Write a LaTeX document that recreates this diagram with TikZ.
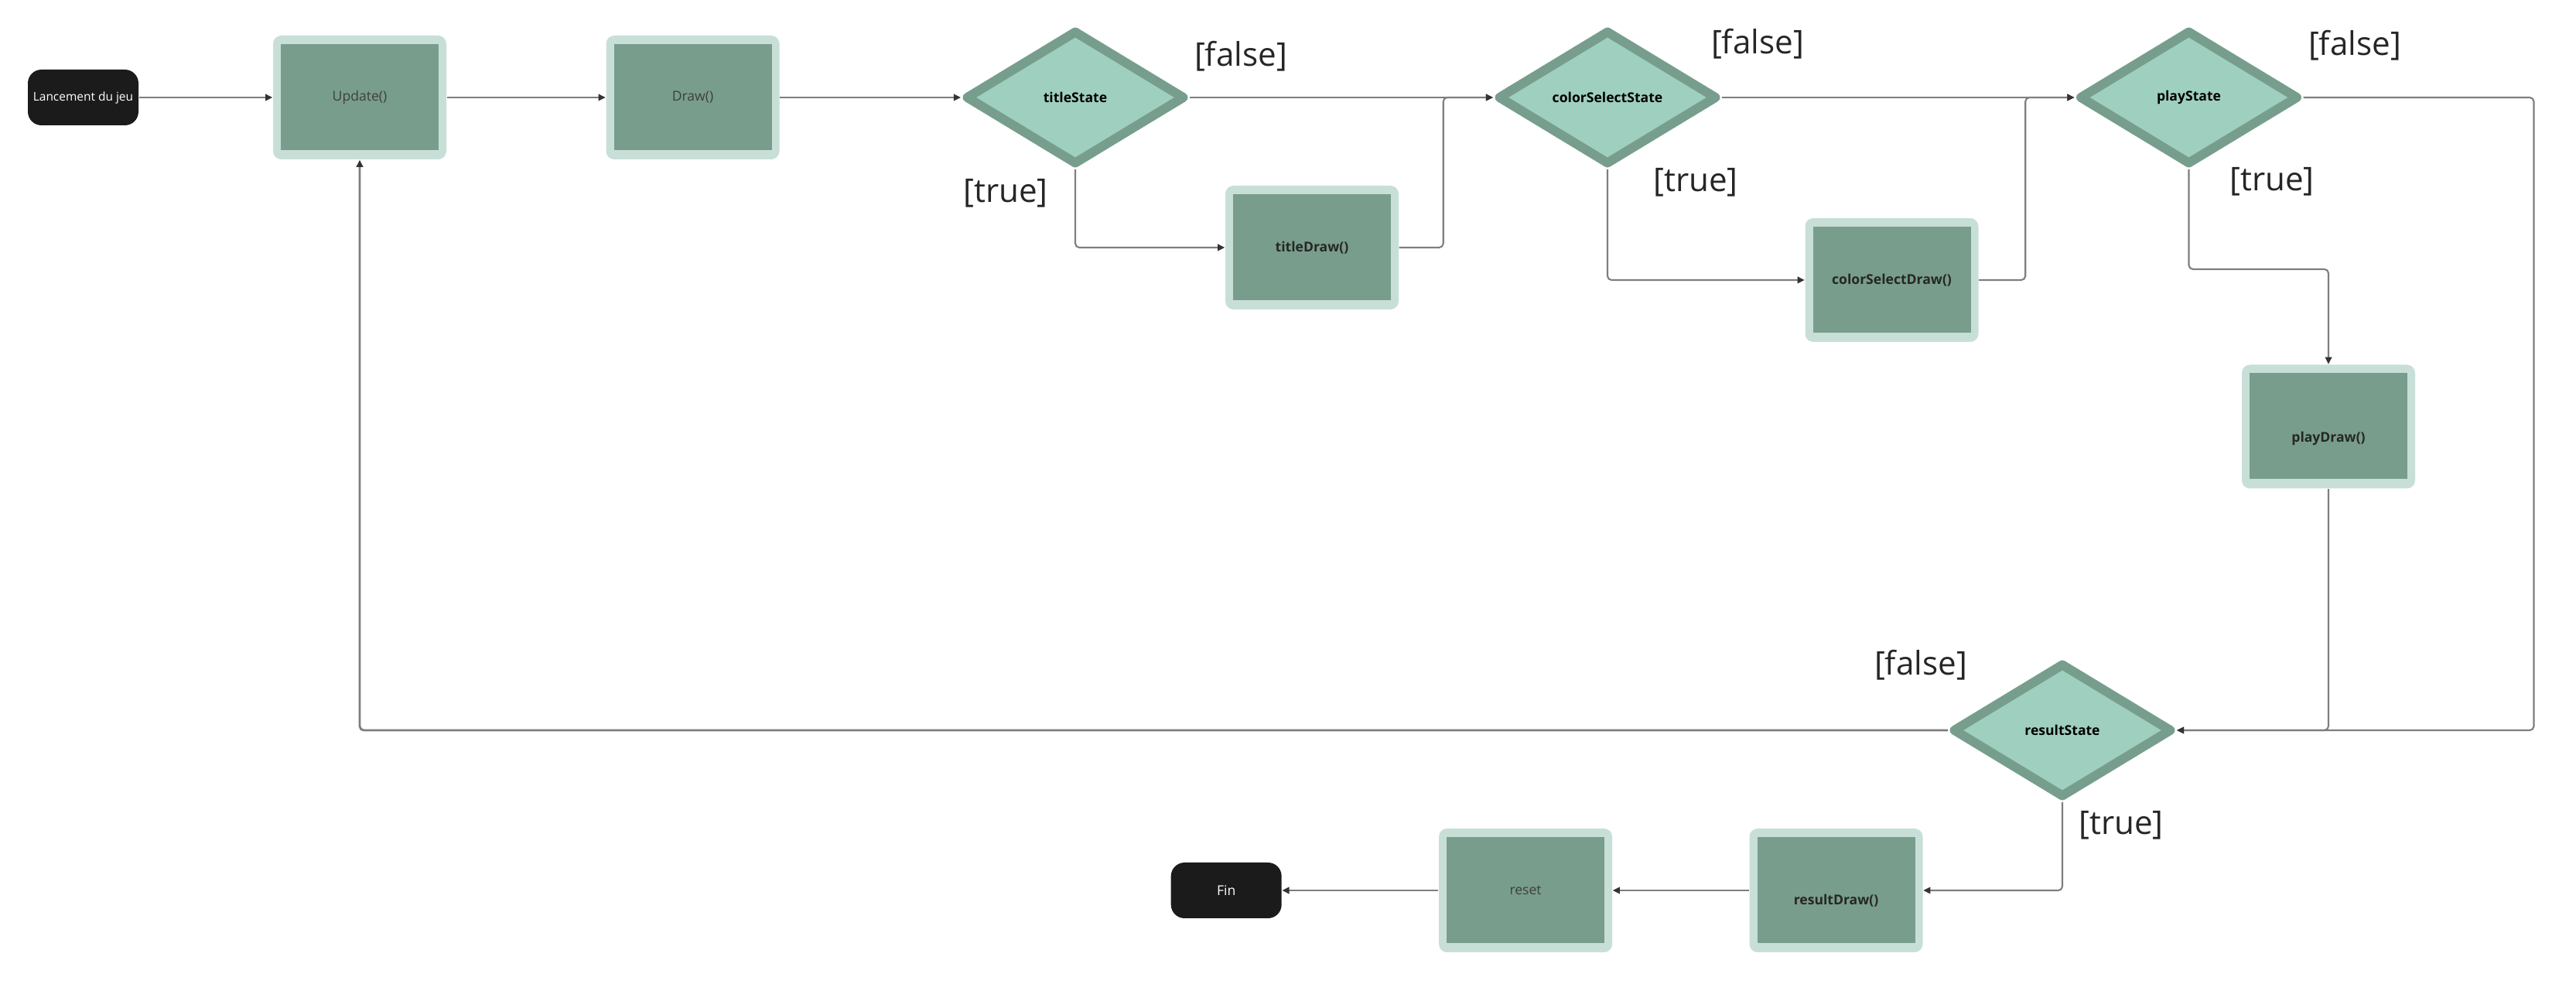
\documentclass[tikz,border=0pt]{standalone}
\usepackage{fontspec}
\setmainfont{Open Sans}
\usetikzlibrary{shapes.geometric,arrows.meta,positioning}
\definecolor{boxout}{HTML}{C8DFD8}
\definecolor{boxin}{HTML}{789D8C}
\definecolor{decfill}{HTML}{9FCFBF}
\definecolor{decline}{HTML}{779E8D}
\definecolor{termfill}{HTML}{1B1B1B}
\definecolor{wire}{HTML}{7E7E7E}
\definecolor{tipdark}{HTML}{333333}
\definecolor{txtgrey}{HTML}{3F3F3F}

\begin{document}
\begin{tikzpicture}[
  every node/.style={font=\fontsize{5}{6}\selectfont},
  stepbox/.style={fill=boxout,rounded corners=3pt,minimum width=2.24cm,
                  minimum height=1.6cm,inner sep=0pt,text=txtgrey,
                  path picture={\fill[boxin,sharp corners]
                    ([shift={(0.1,-0.11)}]path picture bounding box.north west) rectangle
                    ([shift={(-0.1,0.12)}]path picture bounding box.south east);}},
  callbox/.style={stepbox,text=black!85,font=\fontsize{5}{6}\selectfont\bfseries},
  decide/.style={diamond,fill=decfill,draw=decline,line width=3.4pt,line join=round,
                 minimum width=2.84cm,minimum height=1.74cm,inner sep=0pt,
                 font=\fontsize{5}{6}\selectfont\bfseries},
  term/.style={fill=termfill,rounded corners=5pt,minimum width=1.43cm,
               minimum height=0.72cm,inner sep=0pt,text=white,
               font=\fontsize{4.4}{5}\selectfont},
  cond/.style={font=\fontsize{12}{14}\selectfont,text=black!85},
  arr/.style={-{Triangle[length=2.6pt,width=2.4pt,color=tipdark]},draw=wire,
              line width=0.6pt,rounded corners=1.5pt}
]
\useasboundingbox (0,0) rectangle (33.3,-13.03);

% Start and main loop
\node[term] (start) at (1.075,-1.26) {Lancement du jeu};
\node[stepbox] (upd) at (4.65,-1.26) {Update()};
\node[stepbox] (drw) at (8.955,-1.26) {Draw()};

% Title screen
\node[decide] (tstate) at (13.90,-1.26) {titleState};
\node[callbox] (tdraw) at (16.96,-3.20) {titleDraw()};
\node[cond] (tfalse) at (16.04,-0.73) {[false]};
\node[cond] (ttrue) at (13.00,-2.50) {[true]};

% Colour selection
\node[decide] (cstate) at (20.78,-1.26) {colorSelectState};
\node[callbox] (cdraw) at (24.455,-3.62) {colorSelectDraw()};
\node[cond] (cfalse) at (22.72,-0.57) {[false]};
\node[cond] (ctrue) at (21.92,-2.36) {[true]};

% Game
\node[decide] (pstate) at (28.295,-1.26) {playState};
\node[callbox] (pdraw) at (30.10,-5.515) {\raisebox{-0.2cm}[0pt][0pt]{playDraw()}};
\node[cond] (pfalse) at (30.44,-0.59) {[false]};
\node[cond] (ptrue) at (29.37,-2.35) {[true]};

% Result and end
\node[decide] (rstate) at (26.66,-9.44) {resultState};
\node[callbox] (rdraw) at (23.735,-11.51) {\raisebox{-0.19cm}[0pt][0pt]{resultDraw()}};
\node[stepbox,left=1.76cm of rdraw] (rst) {reset};
\node[term,left=2.02cm of rst,font=\fontsize{5}{6}\selectfont] (fin) {Fin};
\node[cond] (rfalse) at (24.83,-8.60) {[false]};
\node[cond] (rtrue) at (27.42,-10.67) {[true]};

% Connectors
\draw[arr] (start.east) -- (upd.west);
\draw[arr] (upd.east) -- (drw.west);
\draw[arr] (drw.east) -- (tstate.west);
\draw[arr] (tstate.east) -- (cstate.west);
\draw[arr] (tstate.south) |- (tdraw.west);
\draw[arr] (tdraw.east) -- ++(0.57,0) |- (cstate.west);
\draw[arr] (cstate.east) -- (pstate.west);
\draw[arr] (cstate.south) |- (cdraw.west);
\draw[arr] (cdraw.east) -- ++(0.60,0) |- (pstate.west);
\draw[arr] (pstate.south) -- ++(0,-1.29) -| (pdraw.north);
\draw[arr] (pstate.east) -- ++(2.98,0) |- (rstate.east);
\draw[arr] (pdraw.south) |- (rstate.east);
\draw[arr] (rstate.south) |- (rdraw.east);
\draw[arr] (rdraw.west) -- (rst.east);
\draw[arr] (rst.west) -- (fin.east);
% back to Update()
\draw[arr,line width=0.8pt] (rstate.west) -| (upd.south);

\end{tikzpicture}
\end{document}
